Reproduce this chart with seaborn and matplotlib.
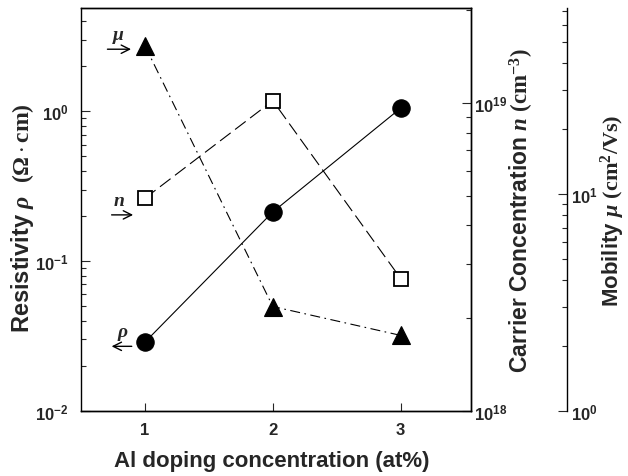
import matplotlib
matplotlib.use("Agg")
import matplotlib.pyplot as plt
import matplotlib.transforms as mtransforms
from matplotlib.ticker import NullFormatter
import seaborn as sns

# ---- data ----
doping = [1, 2, 3]                       # Al doping concentration (at%)
resistivity = [0.0288, 0.213, 1.05]      # Ohm.cm
carrier = [4.9e18, 1.015e19, 2.69e18]    # cm^-3
mobility = [48.2, 3.03, 2.23]            # cm^2/Vs
xticks = [1, 2, 3]

sns.set_style("ticks")
plt.rcParams["font.family"] = ["Liberation Sans", "DejaVu Sans"]
plt.rcParams["font.weight"] = "bold"
plt.rcParams["axes.labelweight"] = "bold"
plt.rcParams["mathtext.fontset"] = "custom"
plt.rcParams["mathtext.rm"] = "Liberation Sans:bold"
plt.rcParams["mathtext.bf"] = "Liberation Sans:bold"
plt.rcParams["mathtext.it"] = "Liberation Serif:italic:bold"
plt.rcParams["mathtext.sf"] = "Liberation Serif:bold"

fig = plt.figure(figsize=(6.28, 4.77), dpi=100)
ax = fig.add_axes([0.129, 0.1363, 0.621, 0.845])
ax2 = ax.twinx()
ax3 = ax.twinx()

# resistivity (left axis)
sns.lineplot(x=doping, y=resistivity, ax=ax, color="black", lw=0.8,
             marker="o", markersize=12.5, markerfacecolor="black",
             markeredgecolor="black", markeredgewidth=0.8)
# carrier concentration (inner right axis)
sns.lineplot(x=doping, y=carrier, ax=ax2, color="black", lw=0.8,
             linestyle=(0, (12, 5)),
             marker="s", markersize=10, markerfacecolor="white",
             markeredgecolor="black", markeredgewidth=1.3)
# mobility (outer right axis)
sns.lineplot(x=doping, y=mobility, ax=ax3, color="black", lw=0.8,
             linestyle=(0, (9, 4, 1.5, 4)),
             marker="^", markersize=13.5, markerfacecolor="black",
             markeredgecolor="black", markeredgewidth=0.8)

ax.set_xlim(0.5, 3.55)
ax.set_xticks(xticks)
ax.set_xticklabels([str(v) for v in xticks])
for a in (ax, ax2, ax3):
    a.set_yscale("log")
    a.yaxis.set_minor_formatter(NullFormatter())
ax.set_ylim(1e-2, 4.9)
ax2.set_ylim(1e18, 2.03e19)
ax3.set_ylim(1, 72)

tick_kw = dict(direction="in", labelsize=12, width=0.8)
ax.tick_params(axis="x", which="major", length=6, top=False, pad=8, **tick_kw)
ax.tick_params(axis="x", which="minor", bottom=False, top=False)
ax.tick_params(axis="y", which="major", length=6.5, right=False, pad=9, **tick_kw)
ax.tick_params(axis="y", which="minor", length=3.5, right=False, direction="in", width=0.8)
ax2.tick_params(axis="y", which="major", length=6.5, pad=2, **tick_kw)
ax2.tick_params(axis="y", which="minor", length=3.5, direction="in", width=0.8)
ax3.tick_params(axis="y", which="major", length=6.5, pad=3, **tick_kw)
ax3.tick_params(axis="y", which="minor", length=3.5, direction="in", width=0.8)

for a in (ax, ax2):
    for s in a.spines.values():
        s.set_linewidth(1.0)
        s.set_color("black")
ax2.spines["left"].set_visible(False)
for side in ("left", "top", "bottom"):
    ax3.spines[side].set_visible(False)
ax3.spines["right"].set_position(("axes", 1.246))
ax3.spines["right"].set_linewidth(1.0)
ax3.spines["right"].set_color("black")

# axis labels
ax.set_xlabel("Al doping concentration (at%)", fontsize=16, fontweight="bold")
ax.xaxis.set_label_coords(0.49, -0.124)
ax.xaxis.label.set_va("center")

ax.set_ylabel(r"Resistivity $\mathit{\rho}$  $\mathsf{(\Omega\cdot cm)}$",
              fontsize=17, fontweight="bold")
ax.yaxis.set_label_coords(-0.151, 0.48)
ax.yaxis.label.set_va("center")

ax2.set_ylabel(r"Carrier Concentration $\mathit{n}$ $\mathsf{(cm^{-3})}$",
               fontsize=16.5, fontweight="bold")
ax2.yaxis.set_label_coords(1.131, 0.5)
ax2.yaxis.label.set_va("center")

ax3.set_ylabel(r"Mobility $\mathit{\mu}$ $\mathsf{(cm^{2}/Vs)}$",
               fontsize=16, fontweight="bold")
ax3.yaxis.set_label_coords(1.365, 0.5)
ax3.yaxis.label.set_va("center")

# series labels with arrows
def off(a, dx, dy):
    return a.transData + mtransforms.ScaledTranslation(dx / 72, dy / 72, fig.dpi_scale_trans)

lab_kw = dict(fontsize=14, family="Liberation Serif", style="italic",
              fontweight="bold", ha="center", va="center")
arrow_kw = dict(arrowstyle="->", lw=1.0, color="black", shrinkA=0, shrinkB=0,
                mutation_scale=15)

p = (doping[0], mobility[0])
ax3.annotate("", xy=p, xycoords=off(ax3, -10, -2.5), xytext=p,
             textcoords=off(ax3, -27, -2.5), arrowprops=arrow_kw)
ax3.text(*p, "μ", transform=off(ax3, -19, 8), **lab_kw)

p = (doping[0], carrier[0])
ax2.annotate("", xy=p, xycoords=off(ax2, -8.5, -12), xytext=p,
             textcoords=off(ax2, -24, -12), arrowprops=arrow_kw)
ax2.text(*p, "n", transform=off(ax2, -18.5, -2), **lab_kw)

p = (doping[0], resistivity[0])
ax.annotate("", xy=p, xycoords=off(ax, -24, -3), xytext=p,
            textcoords=off(ax, -9.5, -3), arrowprops=arrow_kw)
ax.text(*p, "ρ", transform=off(ax, -16, 8), **lab_kw)

fig.savefig("out.png", dpi=100)
